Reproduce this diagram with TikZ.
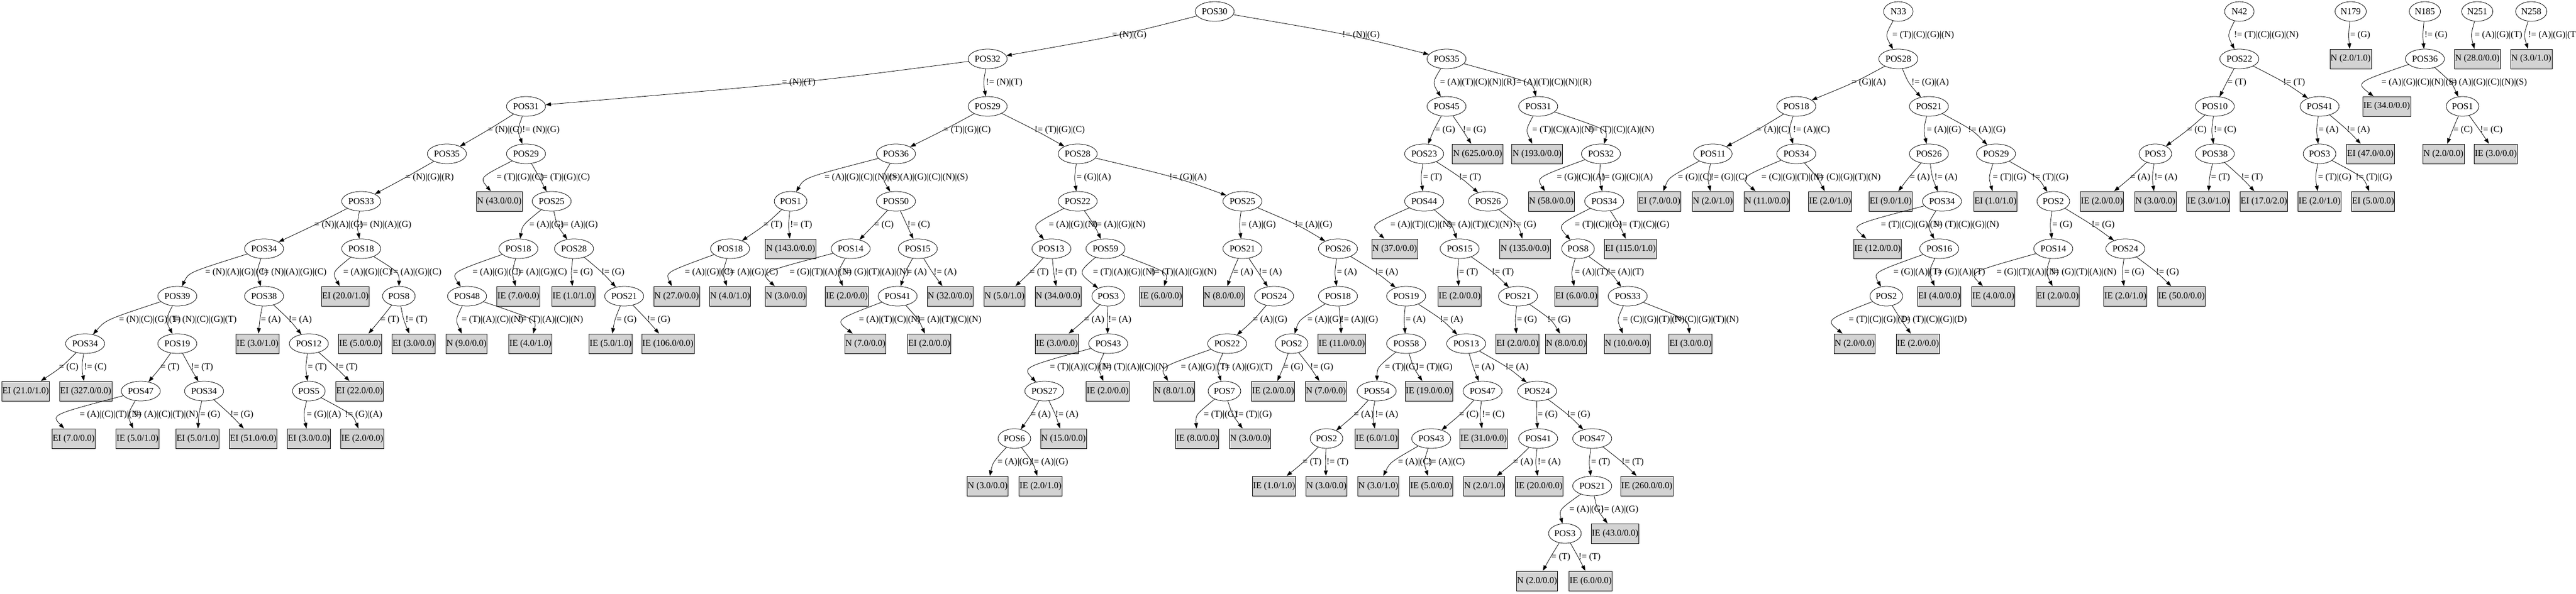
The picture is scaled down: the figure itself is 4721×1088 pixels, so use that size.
\documentclass[tikz,border=0pt]{standalone}
\usepackage{fontspec}
\setmainfont{Liberation Serif}
\usetikzlibrary{shapes.geometric,arrows.meta,calc}
\definecolor{lgray}{RGB}{211,211,211}
\newcommand\tnode[4]{\node[pn] (#1) at ({#2pt},{-21pt-87pt*(#3)}) {#4};}
\newcommand\tleaf[4]{\node[lf] (#1) at ({#2pt},{-21pt-87pt*(#3)}) {#4};}
\newcommand\edgeL[5]{%
  \coordinate (v) at ({#3pt},{-64.5pt-87pt*(#4)});
  \draw[edge] (#1) .. controls ($2*(v)-0.5*(#1)-0.5*(#2)$) .. (#2);
  \node[lab] at ({#3pt+1pt},{-64.5pt-87pt*(#4)}) {#5};}
\begin{document}
\begin{tikzpicture}[
  every node/.style={font=\fontsize{16.6}{18}\selectfont},
  pn/.style={ellipse, draw, line width=0.8pt, minimum width=54pt, minimum height=36pt, inner xsep=1.8pt, inner ysep=1pt},
  lf/.style={rectangle, draw, fill=lgray, line width=0.8pt, minimum height=36pt, inner xsep=1.2pt, inner ysep=1pt},
  lab/.style={anchor=west, inner sep=0pt},
  edge/.style={line width=0.8pt, -{Triangle[length=10pt,width=7pt]}}
]
\fill[white] (0,0) rectangle (4721pt,-1088pt);
\useasboundingbox (0,0) rectangle (4721pt,-1088pt);
% ---------------- tree POS30 : left part
\tnode{r}{2226}{0}{POS30}
\tnode{p32}{1810}{1}{POS32}
\tnode{p31}{964}{2}{POS31}
\tnode{p35a}{819}{3}{POS35}
\tnode{p29a}{964}{3}{POS29}
\tnode{p33}{662}{4}{POS33}
\tleaf{n43}{915}{4}{N (43.0/0.0)}
\tnode{p25a}{1011}{4}{POS25}
\tnode{p34a}{484}{5}{POS34}
\tnode{p18a}{662}{5}{POS18}
\tnode{p18b}{950}{5}{POS18}
\tnode{p28a}{1052}{5}{POS28}
\tnode{p39}{325}{6}{POS39}
\tnode{p38a}{484}{6}{POS38}
\tleaf{l20}{633}{6}{EI (20.0/1.0)}
\tnode{p8a}{731}{6}{POS8}
\tnode{p48}{856}{6}{POS48}
\tleaf{lie7}{950}{6}{IE (7.0/0.0)}
\tleaf{lie1}{1051}{6}{IE (1.0/1.0)}
\tnode{p21a}{1144}{6}{POS21}
\tnode{p34b}{156}{7}{POS34}
\tnode{p19a}{325}{7}{POS19}
\tleaf{lie3}{472}{7}{IE (3.0/1.0)}
\tnode{p12}{566}{7}{POS12}
\tleaf{lie5}{660}{7}{IE (5.0/0.0)}
\tleaf{lei3}{758}{7}{EI (3.0/0.0)}
\tleaf{ln9}{855}{7}{N (9.0/0.0)}
\tleaf{lie4}{972}{7}{IE (4.0/1.0)}
\tleaf{lie5b}{1119}{7}{IE (5.0/1.0)}
\tleaf{lie106}{1224}{7}{IE (106.0/0.0)}
\tleaf{lei21}{47}{8}{EI (21.0/1.0)}
\tleaf{lei327}{157}{8}{EI (327.0/0.0)}
\tnode{p47a}{258}{8}{POS47}
\tnode{p34c}{374}{8}{POS34}
\tnode{p5}{566}{8}{POS5}
\tleaf{lei22}{659}{8}{EI (22.0/0.0)}
\tleaf{lei7}{135}{9}{EI (7.0/0.0)}
\tleaf{lie5c}{252}{9}{IE (5.0/1.0)}
\tleaf{lei5}{362}{9}{EI (5.0/1.0)}
\tleaf{lei51}{464}{9}{EI (51.0/0.0)}
\tleaf{lei3b}{566}{9}{EI (3.0/0.0)}
\tleaf{lie2}{664}{9}{IE (2.0/0.0)}
% ---------------- middle part
\tnode{p29b}{1810}{2}{POS29}
\tnode{p36}{1642}{3}{POS36}
\tnode{p28b}{1975}{3}{POS28}
\tnode{p1a}{1449}{4}{POS1}
\tnode{p50}{1642}{4}{POS50}
\tnode{p22a}{1975}{4}{POS22}
\tnode{p25b}{2277}{4}{POS25}
\tnode{p18c}{1338}{5}{POS18}
\tleaf{ln143}{1449}{5}{N (143.0/0.0)}
\tnode{p14a}{1559}{5}{POS14}
\tnode{p15a}{1682}{5}{POS15}
\tnode{p13a}{1927}{5}{POS13}
\tnode{p59}{2026}{5}{POS59}
\tnode{p21b}{2277}{5}{POS21}
\tnode{p26a}{2452}{5}{POS26}
\tleaf{ln27}{1240}{6}{N (27.0/0.0)}
\tleaf{ln4}{1338}{6}{N (4.0/1.0)}
\tleaf{ln3a}{1440}{6}{N (3.0/0.0)}
\tleaf{lie2a}{1552}{6}{IE (2.0/0.0)}
\tnode{p41a}{1645}{6}{POS41}
\tleaf{ln32}{1741}{6}{N (32.0/0.0)}
\tleaf{ln5}{1841}{6}{N (5.0/1.0)}
\tleaf{ln34}{1939}{6}{N (34.0/0.0)}
\tnode{p3a}{2031}{6}{POS3}
\tleaf{lie6}{2128}{6}{IE (6.0/0.0)}
\tleaf{ln8}{2243}{6}{N (8.0/0.0)}
\tnode{p24a}{2335}{6}{POS24}
\tnode{p18d}{2452}{6}{POS18}
\tnode{p19b}{2577}{6}{POS19}
\tleaf{ln7}{1586}{7}{N (7.0/0.0)}
\tleaf{lei2}{1703}{7}{EI (2.0/0.0)}
\tleaf{lie3b}{1937}{7}{IE (3.0/0.0)}
\tnode{p43a}{2031}{7}{POS43}
\tnode{p22b}{2249}{7}{POS22}
\tnode{p2a}{2367}{7}{POS2}
\tleaf{lie11}{2459}{7}{IE (11.0/0.0)}
\tnode{p58}{2577}{7}{POS58}
\tnode{p13b}{2687}{7}{POS13}
\tnode{p27}{1914}{8}{POS27}
\tleaf{lie2b}{2030}{8}{IE (2.0/0.0)}
\tleaf{ln8b}{2152}{8}{N (8.0/1.0)}
\tnode{p7}{2244}{8}{POS7}
\tleaf{lie2c}{2333}{8}{IE (2.0/0.0)}
\tleaf{ln7b}{2430}{8}{N (7.0/0.0)}
\tnode{p54}{2523}{8}{POS54}
\tleaf{lie19}{2619}{8}{IE (19.0/0.0)}
\tnode{p47b}{2717}{8}{POS47}
\tnode{p24b}{2817}{8}{POS24}
\tnode{p6}{1859}{9}{POS6}
\tleaf{ln15}{1949}{9}{N (15.0/0.0)}
\tleaf{lie8}{2194}{9}{IE (8.0/0.0)}
\tleaf{ln3b}{2291}{9}{N (3.0/0.0)}
\tnode{p2b}{2431}{9}{POS2}
\tleaf{lie6b}{2523}{9}{IE (6.0/1.0)}
\tnode{p43b}{2623}{9}{POS43}
\tleaf{lie31}{2719}{9}{IE (31.0/0.0)}
\tnode{p41b}{2819}{9}{POS41}
\tnode{p47c}{2918}{9}{POS47}
\tleaf{ln3c}{1810}{10}{N (3.0/0.0)}
\tleaf{lie2d}{1907}{10}{IE (2.0/1.0)}
\tleaf{lie1b}{2335}{10}{IE (1.0/1.0)}
\tleaf{ln3d}{2431}{10}{N (3.0/0.0)}
\tleaf{ln3e}{2526}{10}{N (3.0/1.0)}
\tleaf{lie5d}{2623}{10}{IE (5.0/0.0)}
\tleaf{ln2a}{2720}{10}{N (2.0/1.0)}
\tleaf{lie20}{2821}{10}{IE (20.0/0.0)}
\tnode{p21c}{2918}{10}{POS21}
\tleaf{lie260}{3018}{10}{IE (260.0/0.0)}
\tnode{p3b}{2868}{11}{POS3}
\tleaf{lie43}{2960}{11}{IE (43.0/0.0)}
\tleaf{ln2b}{2817}{12}{N (2.0/0.0)}
\tleaf{lie6c}{2915}{12}{IE (6.0/0.0)}
% ---------------- right part of POS30
\tnode{p35b}{2651}{1}{POS35}
\tnode{p45}{2651}{2}{POS45}
\tnode{p31b}{2819}{2}{POS31}
\tnode{p23}{2610}{3}{POS23}
\tleaf{ln625}{2708}{3}{N (625.0/0.0)}
\tleaf{ln193}{2817}{3}{N (193.0/0.0)}
\tnode{p32b}{2934}{3}{POS32}
\tnode{p44}{2610}{4}{POS44}
\tnode{p26b}{2727}{4}{POS26}
\tleaf{ln58}{2843}{4}{N (58.0/0.0)}
\tnode{p34d}{2940}{4}{POS34}
\tleaf{ln37}{2556}{5}{N (37.0/0.0)}
\tnode{p15b}{2675}{5}{POS15}
\tleaf{ln135}{2795}{5}{N (135.0/0.0)}
\tnode{p8b}{2892}{5}{POS8}
\tleaf{lei115}{2988}{5}{EI (115.0/1.0)}
\tleaf{lie2e}{2675}{6}{IE (2.0/0.0)}
\tnode{p21d}{2782}{6}{POS21}
\tleaf{lei6}{2889}{6}{EI (6.0/0.0)}
\tnode{p33b}{2983}{6}{POS33}
\tleaf{lei2b}{2781}{7}{EI (2.0/0.0)}
\tleaf{ln8c}{2870}{7}{N (8.0/0.0)}
\tleaf{ln10}{2982}{7}{N (10.0/0.0)}
\tleaf{lei3c}{3098}{7}{EI (3.0/0.0)}
% ---------------- tree N33
\tnode{n33}{3479}{0}{N33}
\tnode{p28c}{3479}{1}{POS28}
\tnode{p18e}{3292}{2}{POS18}
\tnode{p21e}{3535}{2}{POS21}
\tnode{p11}{3139}{3}{POS11}
\tnode{p34e}{3292}{3}{POS34}
\tnode{p26c}{3535}{3}{POS26}
\tnode{p29c}{3658}{3}{POS29}
\tleaf{lei7b}{3041}{4}{EI (7.0/0.0)}
\tleaf{ln2c}{3139}{4}{N (2.0/1.0)}
\tleaf{ln11}{3238}{4}{N (11.0/0.0)}
\tleaf{lie2f}{3354}{4}{IE (2.0/1.0)}
\tleaf{lei9}{3465}{4}{EI (9.0/1.0)}
\tnode{p34f}{3559}{4}{POS34}
\tleaf{lei1}{3657}{4}{EI (1.0/1.0)}
\tnode{p2c}{3763}{4}{POS2}
\tleaf{lie12}{3441}{5}{IE (12.0/0.0)}
\tnode{p16}{3554}{5}{POS16}
\tnode{p14b}{3763}{5}{POS14}
\tnode{p24c}{3895}{5}{POS24}
\tnode{p2d}{3457}{6}{POS2}
\tleaf{lei4}{3554}{6}{EI (4.0/0.0)}
\tleaf{lie4b}{3653}{6}{IE (4.0/0.0)}
\tleaf{lei2c}{3771}{6}{EI (2.0/0.0)}
\tleaf{lie2g}{3895}{6}{IE (2.0/1.0)}
\tleaf{lie50}{3998}{6}{IE (50.0/0.0)}
\tleaf{ln2d}{3399}{7}{N (2.0/0.0)}
\tleaf{lie2h}{3515}{7}{IE (2.0/0.0)}
% ---------------- tree N42
\tnode{n42}{4104}{0}{N42}
\tnode{p22c}{4104}{1}{POS22}
\tnode{p10}{4059}{2}{POS10}
\tnode{p41c}{4251}{2}{POS41}
\tnode{p3c}{3950}{3}{POS3}
\tnode{p38b}{4059}{3}{POS38}
\tnode{p3d}{4251}{3}{POS3}
\tleaf{lei47}{4344}{3}{EI (47.0/0.0)}
\tleaf{lie2i}{3852}{4}{IE (2.0/0.0)}
\tleaf{ln3f}{3950}{4}{N (3.0/0.0)}
\tleaf{lie3c}{4047}{4}{IE (3.0/1.0)}
\tleaf{lei17}{4149}{4}{EI (17.0/2.0)}
\tleaf{lie2j}{4251}{4}{IE (2.0/1.0)}
\tleaf{lei5b}{4349}{4}{EI (5.0/0.0)}
% ---------------- small trees
\tnode{n179}{4308}{0}{N179}
\tleaf{ln2e}{4308}{1}{N (2.0/1.0)}
\tnode{n185}{4444}{0}{N185}
\tnode{p36b}{4444}{1}{POS36}
\tleaf{lie34}{4374}{2}{IE (34.0/0.0)}
\tnode{p1b}{4513}{2}{POS1}
\tleaf{ln2f}{4478}{3}{N (2.0/0.0)}
\tleaf{lie3d}{4574}{3}{IE (3.0/0.0)}
\tnode{n251}{4540}{0}{N251}
\tleaf{ln28}{4540}{1}{N (28.0/0.0)}
\tnode{n258}{4639}{0}{N258}
\tleaf{ln3g}{4639}{1}{N (3.0/1.0)}
% ================= edges
\edgeL{r}{p32}{2037}{0}{= (N)|(G)}
\edgeL{r}{p35b}{2459}{0}{!= (N)|(G)}
\edgeL{p32}{p31}{1432}{1}{= (N)|(T)}
\edgeL{p32}{p29b}{1806}{1}{!= (N)|(T)}
\edgeL{p31}{p35a}{893}{2}{= (N)|(G)}
\edgeL{p31}{p29a}{956}{2}{!= (N)|(G)}
\edgeL{p35a}{p33}{742}{3}{= (N)|(G)|(R)}
\edgeL{p29a}{n43}{909}{3}{= (T)|(G)|(C)}
\edgeL{p29a}{p25a}{988}{3}{!= (T)|(G)|(C)}
\edgeL{p33}{p34a}{575}{4}{= (N)|(A)|(G)}
\edgeL{p33}{p18a}{658}{4}{!= (N)|(A)|(G)}
\edgeL{p25a}{p18b}{969}{4}{= (A)|(G)}
\edgeL{p25a}{p28a}{1026}{4}{!= (A)|(G)}
\edgeL{p34a}{p39}{375}{5}{= (N)|(A)|(G)|(C)}
\edgeL{p34a}{p38a}{477}{5}{!= (N)|(A)|(G)|(C)}
\edgeL{p18a}{l20}{628}{5}{= (A)|(G)|(C)}
\edgeL{p18a}{p8a}{714}{5}{!= (A)|(G)|(C)}
\edgeL{p18b}{p48}{865}{5}{= (A)|(G)|(C)}
\edgeL{p18b}{lie7}{944}{5}{!= (A)|(G)|(C)}
\edgeL{p28a}{lie1}{1049}{5}{= (G)}
\edgeL{p28a}{p21a}{1101}{5}{!= (G)}
\edgeL{p39}{p34b}{217}{6}{= (N)|(C)|(G)|(T)}
\edgeL{p39}{p19a}{314}{6}{!= (N)|(C)|(G)|(T)}
\edgeL{p38a}{lie3}{477}{6}{= (A)}
\edgeL{p38a}{p12}{528}{6}{!= (A)}
\edgeL{p8a}{lie5}{696}{6}{= (T)}
\edgeL{p8a}{lei3}{742}{6}{!= (T)}
\edgeL{p48}{ln9}{845}{6}{= (T)|(A)|(C)|(N)}
\edgeL{p48}{lie4}{949}{6}{!= (T)|(A)|(C)|(N)}
\edgeL{p21a}{lie5b}{1129}{6}{= (G)}
\edgeL{p21a}{lie106}{1185}{6}{!= (G)}
\edgeL{p34b}{lei21}{107}{7}{= (C)}
\edgeL{p34b}{lei327}{153}{7}{!= (C)}
\edgeL{p19a}{p47a}{293}{7}{= (T)}
\edgeL{p19a}{p34c}{349}{7}{!= (T)}
\edgeL{p12}{p5}{563}{7}{= (T)}
\edgeL{p12}{lei22}{614}{7}{!= (T)}
\edgeL{p47a}{lei7}{145}{8}{= (A)|(C)|(T)|(N)}
\edgeL{p47a}{lie5c}{244}{8}{!= (A)|(C)|(T)|(N)}
\edgeL{p34c}{lei5}{366}{8}{= (G)}
\edgeL{p34c}{lei51}{421}{8}{!= (G)}
\edgeL{p5}{lei3b}{561}{8}{= (G)|(A)}
\edgeL{p5}{lie2}{631}{8}{!= (G)|(A)}
% middle
\edgeL{p29b}{p36}{1728}{2}{= (T)|(G)|(C)}
\edgeL{p29b}{p28b}{1895}{2}{!= (T)|(G)|(C)}
\edgeL{p36}{p1a}{1510}{3}{= (A)|(G)|(C)|(N)|(S)}
\edgeL{p36}{p50}{1629}{3}{!= (A)|(G)|(C)|(N)|(S)}
\edgeL{p28b}{p22a}{1972}{3}{= (G)|(A)}
\edgeL{p28b}{p25b}{2142}{3}{!= (G)|(A)}
\edgeL{p1a}{p18c}{1398}{4}{= (T)}
\edgeL{p1a}{ln143}{1447}{4}{!= (T)}
\edgeL{p50}{p14a}{1601}{4}{= (C)}
\edgeL{p50}{p15a}{1662}{4}{!= (C)}
\edgeL{p22a}{p13a}{1921}{4}{= (A)|(G)|(N)}
\edgeL{p22a}{p59}{2003}{4}{!= (A)|(G)|(N)}
\edgeL{p25b}{p21b}{2274}{4}{= (A)|(G)}
\edgeL{p25b}{p26a}{2372}{4}{!= (A)|(G)}
\edgeL{p18c}{ln27}{1254}{5}{= (A)|(G)|(C)}
\edgeL{p18c}{ln4}{1331}{5}{!= (A)|(G)|(C)}
\edgeL{p14a}{ln3a}{1446}{5}{= (G)|(T)|(A)|(N)}
\edgeL{p14a}{lie2a}{1545}{5}{!= (G)|(T)|(A)|(N)}
\edgeL{p15a}{p41a}{1661}{5}{= (A)}
\edgeL{p15a}{ln32}{1710}{5}{!= (A)}
\edgeL{p13a}{ln5}{1886}{5}{= (T)}
\edgeL{p13a}{ln34}{1932}{5}{!= (T)}
\edgeL{p59}{p3a}{2002}{5}{= (T)|(A)|(G)|(N)}
\edgeL{p59}{lie6}{2109}{5}{!= (T)|(A)|(G)|(N)}
\edgeL{p21b}{ln8}{2259}{5}{= (A)}
\edgeL{p21b}{p24a}{2306}{5}{!= (A)}
\edgeL{p26a}{p18d}{2449}{5}{= (A)}
\edgeL{p26a}{p19b}{2519}{5}{!= (A)}
\edgeL{p41a}{ln7}{1573}{6}{= (A)|(T)|(C)|(N)}
\edgeL{p41a}{lei2}{1679}{6}{!= (A)|(T)|(C)|(N)}
\edgeL{p3a}{lie3b}{1986}{6}{= (A)}
\edgeL{p3a}{p43a}{2030}{6}{!= (A)}
\edgeL{p24a}{p22b}{2295}{6}{= (A)|(G)}
\edgeL{p18d}{p2a}{2395}{6}{= (A)|(G)}
\edgeL{p18d}{lie11}{2456}{6}{!= (A)|(G)}
\edgeL{p19b}{p58}{2575}{6}{= (A)}
\edgeL{p19b}{p13b}{2638}{6}{!= (A)}
\edgeL{p43a}{p27}{1923}{7}{= (T)|(A)|(C)|(N)}
\edgeL{p43a}{lie2b}{2021}{7}{!= (T)|(A)|(C)|(N)}
\edgeL{p22b}{ln8b}{2163}{7}{= (A)|(G)|(T)}
\edgeL{p22b}{p7}{2238}{7}{!= (A)|(G)|(T)}
\edgeL{p2a}{lie2c}{2351}{7}{= (G)}
\edgeL{p2a}{ln7b}{2400}{7}{!= (G)}
\edgeL{p58}{p54}{2537}{7}{= (T)|(G)}
\edgeL{p58}{lie19}{2594}{7}{!= (T)|(G)}
\edgeL{p13b}{p47b}{2701}{7}{= (A)}
\edgeL{p13b}{p24b}{2758}{7}{!= (A)}
\edgeL{p27}{p6}{1888}{8}{= (A)}
\edgeL{p27}{ln15}{1933}{8}{!= (A)}
\edgeL{p7}{lie8}{2205}{8}{= (T)|(G)}
\edgeL{p7}{ln3b}{2263}{8}{!= (T)|(G)}
\edgeL{p54}{p2b}{2480}{8}{= (A)}
\edgeL{p54}{lie6b}{2519}{8}{!= (A)}
\edgeL{p47b}{p43b}{2673}{8}{= (C)}
\edgeL{p47b}{lie31}{2715}{8}{!= (C)}
\edgeL{p24b}{p41b}{2817}{8}{= (G)}
\edgeL{p24b}{p47c}{2871}{8}{!= (G)}
\edgeL{p6}{ln3c}{1827}{9}{= (A)|(G)}
\edgeL{p6}{lie2d}{1888}{9}{!= (A)|(G)}
\edgeL{p2b}{lie1b}{2386}{9}{= (T)}
\edgeL{p2b}{ln3d}{2430}{9}{!= (T)}
\edgeL{p43b}{ln3e}{2561}{9}{= (A)|(C)}
\edgeL{p43b}{lie5d}{2616}{9}{!= (A)|(C)}
\edgeL{p41b}{ln2a}{2772}{9}{= (A)}
\edgeL{p41b}{lie20}{2817}{9}{!= (A)}
\edgeL{p47c}{p21c}{2915}{9}{= (T)}
\edgeL{p47c}{lie260}{2971}{9}{!= (T)}
\edgeL{p21c}{p3b}{2875}{10}{= (A)|(G)}
\edgeL{p21c}{lie43}{2933}{10}{!= (A)|(G)}
\edgeL{p3b}{ln2b}{2842}{11}{= (T)}
\edgeL{p3b}{lie6c}{2892}{11}{!= (T)}
% right of POS30
\edgeL{p35b}{p45}{2638}{1}{= (A)|(T)|(C)|(N)|(R)}
\edgeL{p35b}{p31b}{2772}{1}{!= (A)|(T)|(C)|(N)|(R)}
\edgeL{p45}{p23}{2629}{2}{= (G)}
\edgeL{p45}{ln625}{2680}{2}{!= (G)}
\edgeL{p31b}{ln193}{2807}{2}{= (T)|(C)|(A)|(N)}
\edgeL{p31b}{p32b}{2912}{2}{!= (T)|(C)|(A)|(N)}
\edgeL{p23}{p44}{2607}{3}{= (T)}
\edgeL{p23}{p26b}{2673}{3}{!= (T)}
\edgeL{p32b}{ln58}{2852}{3}{= (G)|(C)|(A)}
\edgeL{p32b}{p34d}{2934}{3}{!= (G)|(C)|(A)}
\edgeL{p44}{ln37}{2547}{4}{= (A)|(T)|(C)|(N)}
\edgeL{p44}{p15b}{2652}{4}{!= (A)|(T)|(C)|(N)}
\edgeL{p26b}{ln135}{2772}{4}{!= (G)}
\edgeL{p34d}{p8b}{2885}{4}{= (T)|(C)|(G)}
\edgeL{p34d}{lei115}{2966}{4}{!= (T)|(C)|(G)}
\edgeL{p15b}{lie2e}{2673}{5}{= (T)}
\edgeL{p15b}{p21d}{2733}{5}{!= (T)}
\edgeL{p8b}{lei6}{2885}{5}{= (A)|(T)}
\edgeL{p8b}{p33b}{2945}{5}{!= (A)|(T)}
\edgeL{p21d}{lei2b}{2779}{6}{= (G)}
\edgeL{p21d}{ln8c}{2835}{6}{!= (G)}
\edgeL{p33b}{ln10}{2973}{6}{= (C)|(G)|(T)|(N)}
\edgeL{p33b}{lei3c}{3067}{6}{!= (C)|(G)|(T)|(N)}
% N33
\edgeL{n33}{p28c}{3467}{0}{= (T)|(C)|(G)|(N)}
\edgeL{p28c}{p18e}{3392}{1}{= (G)|(A)}
\edgeL{p28c}{p21e}{3502}{1}{!= (G)|(A)}
\edgeL{p18e}{p11}{3218}{2}{= (A)|(C)}
\edgeL{p18e}{p34e}{3285}{2}{!= (A)|(C)}
\edgeL{p21e}{p26c}{3530}{2}{= (A)|(G)}
\edgeL{p21e}{p29c}{3606}{2}{!= (A)|(G)}
\edgeL{p11}{lei7b}{3074}{3}{= (G)|(C)}
\edgeL{p11}{ln2c}{3134}{3}{!= (G)|(C)}
\edgeL{p34e}{ln11}{3227}{3}{= (C)|(G)|(T)|(N)}
\edgeL{p34e}{lie2f}{3327}{3}{!= (C)|(G)|(T)|(N)}
\edgeL{p26c}{lei9}{3499}{3}{= (A)}
\edgeL{p26c}{p34f}{3544}{3}{!= (A)}
\edgeL{p29c}{lei1}{3651}{3}{= (T)|(G)}
\edgeL{p29c}{p2c}{3723}{3}{!= (T)|(G)}
\edgeL{p34f}{lie12}{3446}{4}{= (T)|(C)|(G)|(N)}
\edgeL{p34f}{p16}{3544}{4}{!= (T)|(C)|(G)|(N)}
\edgeL{p2c}{p14b}{3760}{4}{= (G)}
\edgeL{p2c}{p24c}{3832}{4}{!= (G)}
\edgeL{p16}{p2d}{3469}{5}{= (G)|(A)|(T)}
\edgeL{p16}{lei4}{3544}{5}{!= (G)|(A)|(T)}
\edgeL{p14b}{lie4b}{3658}{5}{= (G)|(T)|(A)|(N)}
\edgeL{p14b}{lei2c}{3758}{5}{!= (G)|(T)|(A)|(N)}
\edgeL{p24c}{lie2g}{3892}{5}{= (G)}
\edgeL{p24c}{lie50}{3950}{5}{!= (G)}
\edgeL{p2d}{ln2d}{3387}{6}{= (T)|(C)|(G)|(D)}
\edgeL{p2d}{lie2h}{3485}{6}{!= (T)|(C)|(G)|(D)}
% N42
\edgeL{n42}{p22c}{4093}{0}{!= (T)|(C)|(G)|(N)}
\edgeL{p22c}{p10}{4081}{1}{= (T)}
\edgeL{p22c}{p41c}{4183}{1}{!= (T)}
\edgeL{p10}{p3c}{4007}{2}{= (C)}
\edgeL{p10}{p38b}{4056}{2}{!= (C)}
\edgeL{p41c}{p3d}{4248}{2}{= (A)}
\edgeL{p41c}{lei47}{4300}{2}{!= (A)}
\edgeL{p3c}{lie2i}{3903}{3}{= (A)}
\edgeL{p3c}{ln3f}{3947}{3}{!= (A)}
\edgeL{p38b}{lie3c}{4051}{3}{= (T)}
\edgeL{p38b}{lei17}{4106}{3}{!= (T)}
\edgeL{p3d}{lie2j}{4247}{3}{= (T)|(G)}
\edgeL{p3d}{lei5b}{4316}{3}{!= (T)|(G)}
% small trees
\edgeL{n179}{ln2e}{4306}{0}{= (G)}
\edgeL{n185}{p36b}{4442}{0}{!= (G)}
\edgeL{p36b}{lie34}{4363}{1}{= (A)|(G)|(C)|(N)|(S)}
\edgeL{p36b}{p1b}{4486}{1}{!= (A)|(G)|(C)|(N)|(S)}
\edgeL{p1b}{ln2f}{4495}{2}{= (C)}
\edgeL{p1b}{lie3d}{4544}{2}{!= (C)}
\edgeL{n251}{ln28}{4534}{0}{= (A)|(G)|(T)}
\edgeL{n258}{ln3g}{4632}{0}{!= (A)|(G)|(T)}
\end{tikzpicture}
\end{document}
